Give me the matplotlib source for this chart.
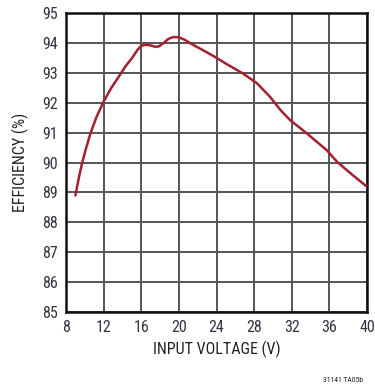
import matplotlib
matplotlib.use("Agg")
import matplotlib.pyplot as plt
from matplotlib import font_manager

names = {f.name for f in font_manager.fontManager.ttflist}
fam = next((n for n in ["Roboto Condensed", "Archivo Narrow", "Liberation Sans"] if n in names), "DejaVu Sans")
plt.rcParams['font.family'] = [fam, 'DejaVu Sans']

# data
vin = [9.0, 9.4, 9.7, 10.1, 10.6, 11.2, 12.0, 12.8, 13.6, 14.3, 15.0, 15.6, 16.0,
       16.5, 17.0, 17.5, 17.9, 18.4, 18.9, 19.4, 20.0, 20.6, 21.5, 22.5, 23.8,
       25.2, 26.8, 28.3, 29.7, 30.8, 31.8, 33.6, 35.7, 36.8, 38.4, 40.0]
eff = [88.9, 89.55, 89.97, 90.45, 90.98, 91.5, 92.05, 92.5, 92.88, 93.22, 93.5, 93.78, 93.92,
       93.95, 93.93, 93.88, 93.9, 94.02, 94.15, 94.21, 94.2, 94.12, 93.95, 93.78, 93.55,
       93.28, 92.99, 92.66, 92.2, 91.76, 91.43, 90.98, 90.42, 90.03, 89.6, 89.19]
xticks = [8, 12, 16, 20, 24, 28, 32, 36, 40]
yticks = [85, 86, 87, 88, 89, 90, 91, 92, 93, 94, 95]

fig = plt.figure(figsize=(3.75, 3.85), dpi=100)
ax = fig.add_axes([0.176, 0.190, 0.803, 0.775])
ax.plot(vin, eff, color='#a3202f', lw=1.8, solid_capstyle='round', zorder=3)
ax.set_xlim(8, 40)
ax.set_ylim(85, 95)
ax.set_xticks(xticks)
ax.set_yticks(yticks)
ax.grid(True, color='#555555', lw=1.4)
ax.set_axisbelow(True)
for s in ax.spines.values():
    s.set_color('#111111')
    s.set_linewidth(1.8)
ax.tick_params(length=0, labelsize=11.5, colors='#333344', pad=6)
ax.set_xlabel('INPUT VOLTAGE (V)', fontsize=11.5, color='#222222', labelpad=4)
ax.set_ylabel('EFFICIENCY (%)', fontsize=11.5, color='#222222', labelpad=9)
fig.text(0.968, 0.014, '31141 TA05b', fontsize=5.5, ha='right', va='center', color='#222222')
fig.savefig('out.png', dpi=100)
